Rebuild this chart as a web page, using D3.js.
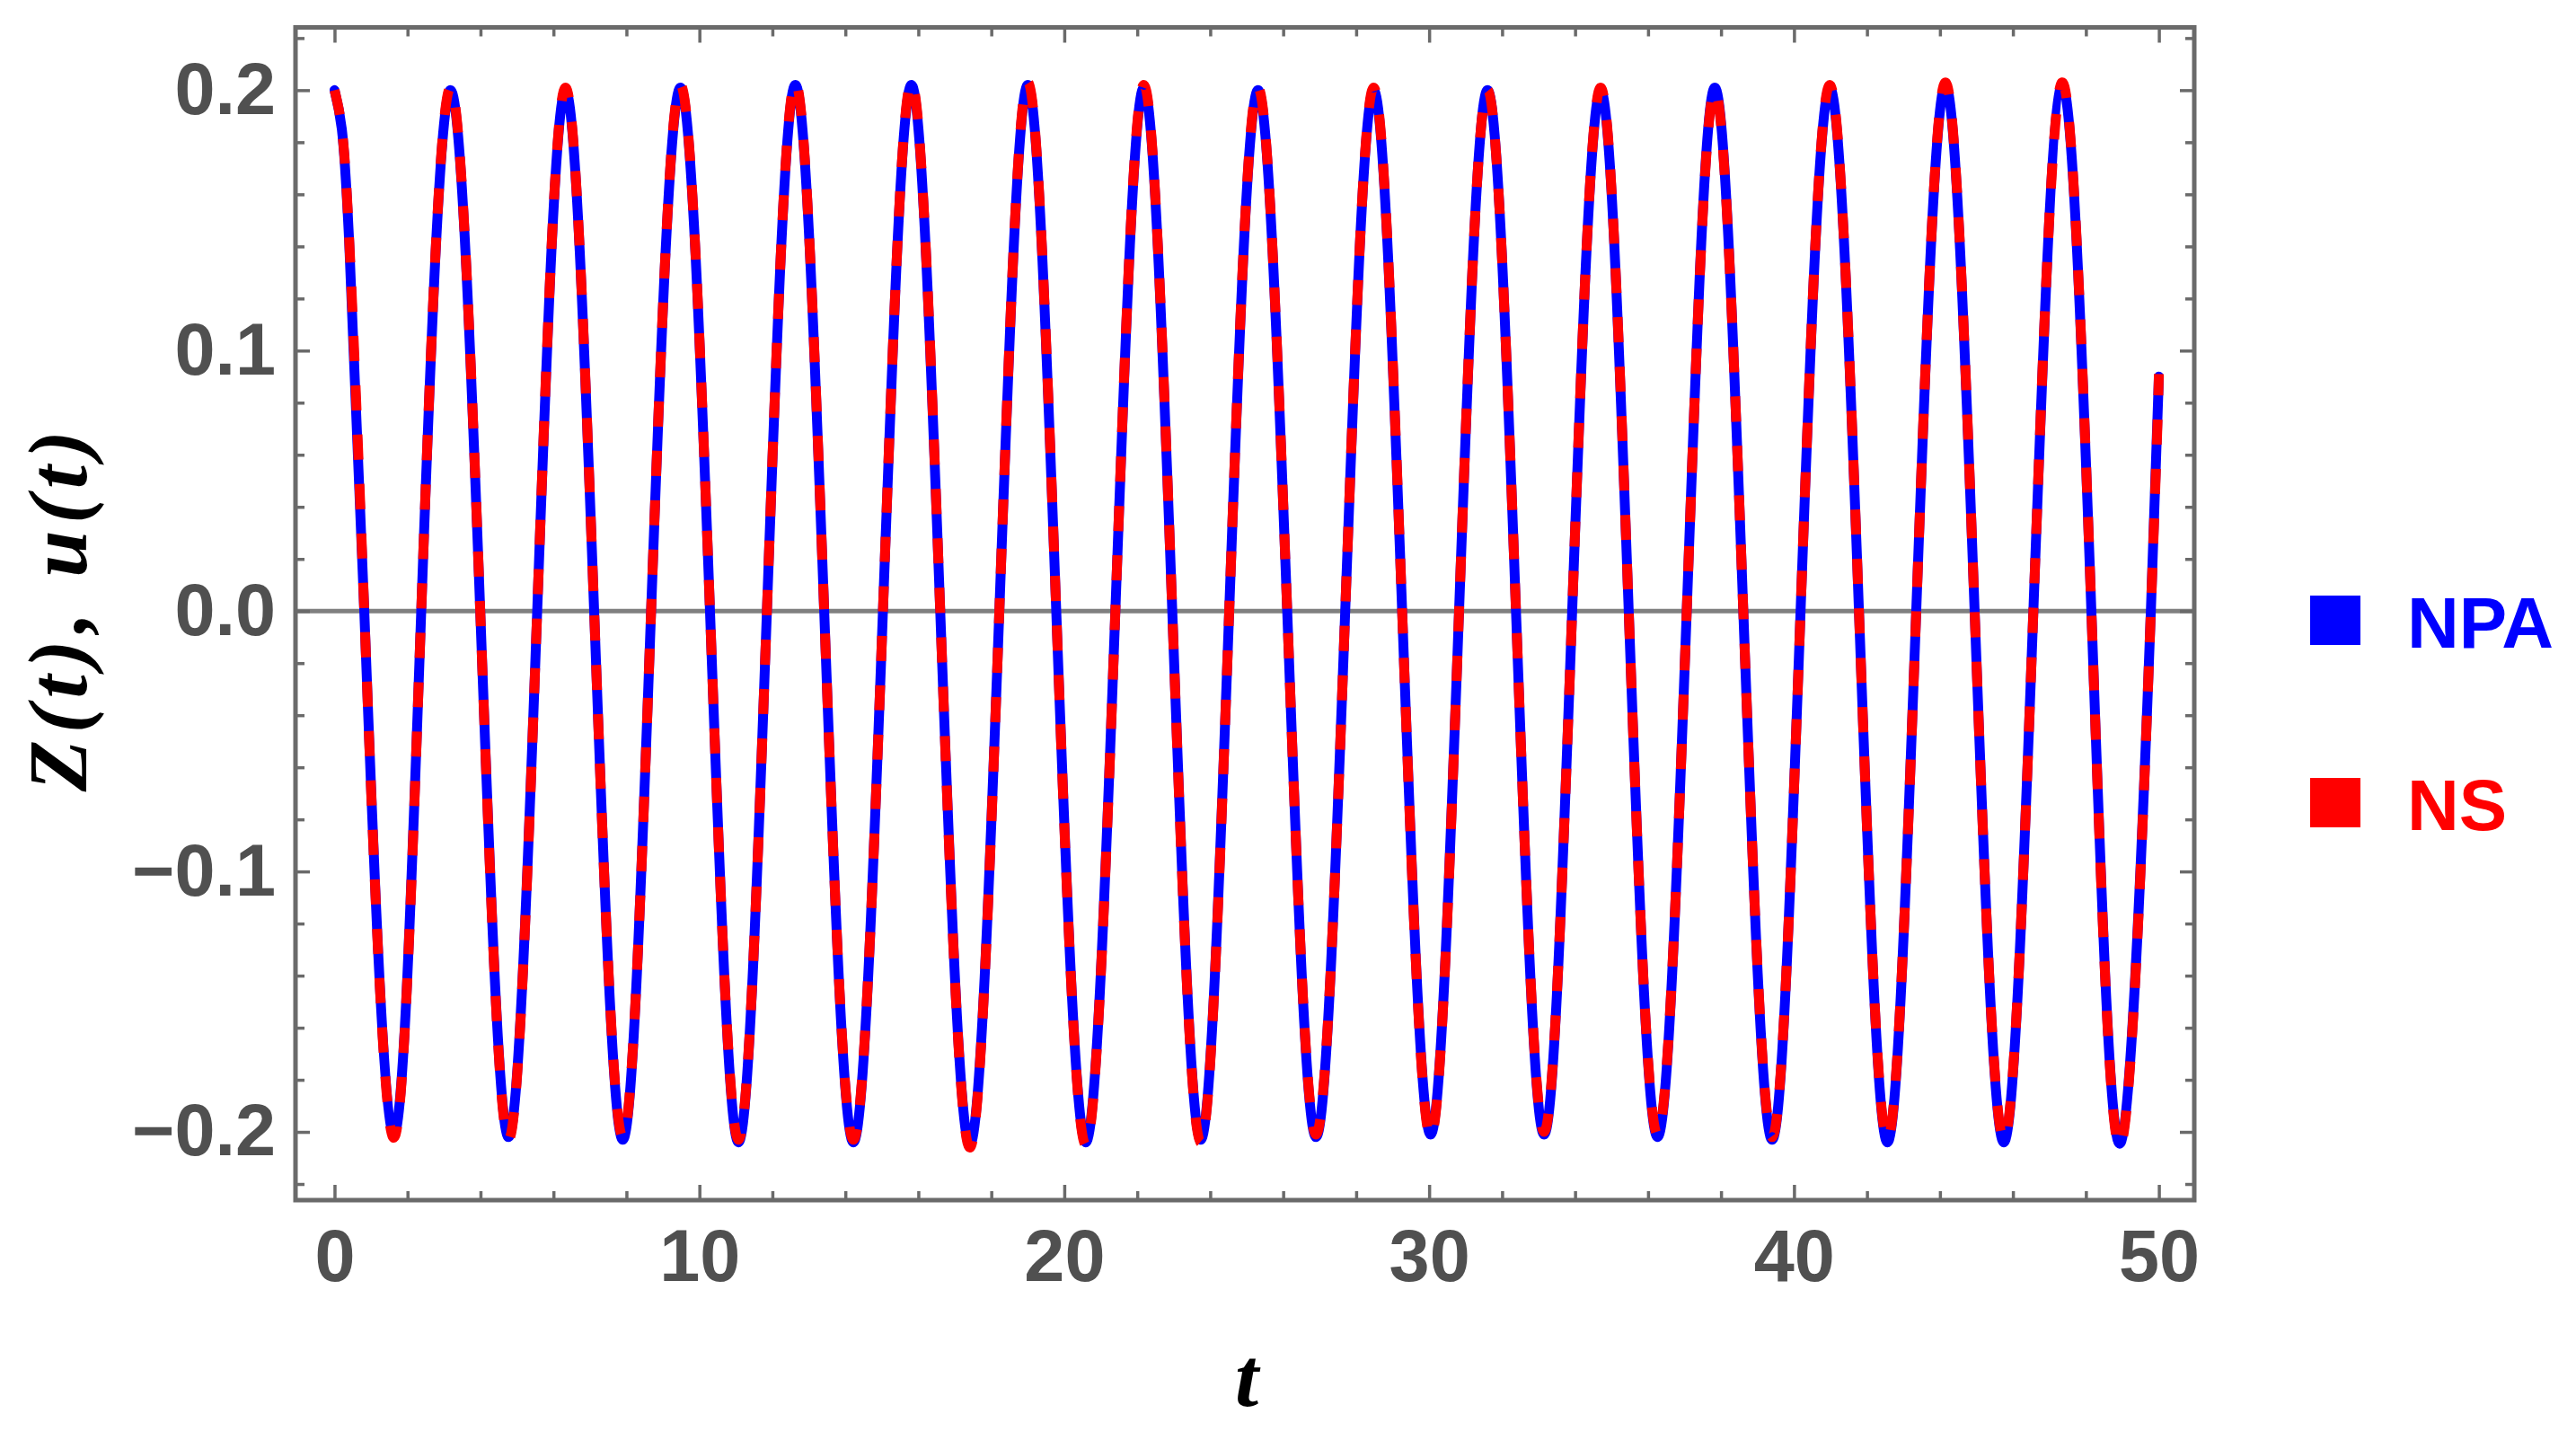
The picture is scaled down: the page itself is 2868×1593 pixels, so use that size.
<!DOCTYPE html>
<html>
<head>
<meta charset="utf-8">
<script src="https://cdn.jsdelivr.net/npm/d3@7"></script>
<style>
  html, body { margin: 0; padding: 0; background: #ffffff; }
  svg { display: block; }
</style>
</head>
<body>
<svg id="chart" width="2868" height="1593"></svg>
<script>
// ---- data ----
// knots: start, zero crossings and extremes, end (time t)
const tValues = [0, 0.20, 0.40, 0.815, 1.60, 2.376, 3.18, 3.993, 4.77, 5.554, 6.33, 7.115, 7.90, 8.676,
  9.48, 10.29, 11.07, 11.85, 12.63, 13.42, 14.22, 15.03, 15.81, 16.60, 17.41, 18.22,
  19.00, 19.78, 20.59, 21.40, 22.18, 22.96, 23.74, 24.52, 25.31, 26.11, 26.90, 27.70,
  28.48, 29.26, 30.04, 30.82, 31.60, 32.38, 33.15, 33.92, 34.70, 35.47, 36.26, 37.06,
  37.83, 38.61, 39.40, 40.18, 40.98, 41.78, 42.56, 43.35, 44.15, 44.95, 45.75, 46.56,
  47.35, 48.15, 48.96, 49.78, 50];

const npaValues = [0.200, 0.185, 0.142, 0, -0.201, 0, 0.200, 0, -0.202, 0, 0.200, 0, -0.203, 0,
  0.201, 0, -0.204, 0, 0.202, 0, -0.204, 0, 0.202, 0, -0.205, 0,
  0.202, 0, -0.204, 0, 0.201, 0, -0.203, 0, 0.200, 0, -0.202, 0,
  0.200, 0, -0.201, 0, 0.200, 0, -0.201, 0, 0.200, 0, -0.202, 0,
  0.201, 0, -0.203, 0, 0.201, 0, -0.204, 0, 0.202, 0, -0.204, 0,
  0.202, 0, -0.204, 0, 0.090];

const nsValues = [0.200, 0.185, 0.143, 0, -0.202, 0, 0.201, 0, -0.203, 0, 0.201, 0, -0.202, 0,
  0.202, 0, -0.203, 0, 0.203, 0, -0.203, 0, 0.203, 0, -0.206, 0,
  0.203, 0, -0.205, 0, 0.202, 0, -0.204, 0, 0.201, 0, -0.201, 0,
  0.201, 0, -0.202, 0, 0.200, 0, -0.200, 0, 0.201, 0, -0.201, 0,
  0.200, 0, -0.202, 0, 0.202, 0, -0.203, 0, 0.203, 0, -0.203, 0,
  0.203, 0, -0.205, 0, 0.091];

const xMajorTicks = [0, 10, 20, 30, 40, 50];
const yMajorTicks = [-0.2, -0.1, 0.0, 0.1, 0.2];
const seriesNames = ["NPA", "NS"];
const seriesColors = ["#0000ff", "#ff0000"];
const xAxisLabel = "t";
const yAxisLabel = "Z(t), u(t)";

// ---- layout ----
const plotLeft = 329, plotRight = 2443, plotTop = 30.5, plotBottom = 1336;
const frameColor = "#6a6a6a";
const labelColor = "#505050";

const svg = d3.select("#chart");

const x = d3.scaleLinear().domain([-1.07, 50.97]).range([plotLeft, plotRight]);
const y = d3.scaleLinear().domain([-0.2262, 0.2241]).range([plotBottom, plotTop]);

const xMinorTicks = d3.range(0, 51, 2).filter(v => v % 10 !== 0);
const yMinorTicks = d3.range(-22, 23, 2).filter(v => v % 10 !== 0).map(v => v / 100);

svg.append("defs").append("clipPath").attr("id", "plotClip")
  .append("rect")
  .attr("x", plotLeft).attr("y", plotTop)
  .attr("width", plotRight - plotLeft).attr("height", plotBottom - plotTop);

// zero axis line
svg.append("line")
  .attr("x1", plotLeft).attr("x2", plotRight)
  .attr("y1", y(0)).attr("y2", y(0))
  .attr("stroke", "#808080").attr("stroke-width", 5);

// series
const npaData = tValues.map((t, i) => [t, npaValues[i]]);
const nsData = tValues.map((t, i) => [t, nsValues[i]]);
const line = d3.line().x(d => x(d[0])).y(d => y(d[1])).curve(d3.curveNatural);

const plotG = svg.append("g").attr("clip-path", "url(#plotClip)");
plotG.append("path").datum(npaData)
  .attr("d", line).attr("fill", "none")
  .attr("stroke", seriesColors[0]).attr("stroke-width", 11)
  .attr("stroke-linecap", "round").attr("stroke-linejoin", "round");
plotG.append("path").datum(nsData)
  .attr("d", line).attr("fill", "none")
  .attr("stroke", seriesColors[1]).attr("stroke-width", 11)
  .attr("stroke-dasharray", "28,27")
  .attr("stroke-linejoin", "round");

// axes (ticks inward)
function styleAxis(g) {
  g.select(".domain").remove();
  g.selectAll(".tick line").attr("stroke", frameColor).attr("stroke-width", 3.5);
  g.selectAll(".tick text")
    .attr("fill", labelColor)
    .style("font-family", "'Liberation Sans', Arial, sans-serif")
    .style("font-weight", "bold")
    .style("font-size", "81px");
}

const fmtY = d3.format(".1f");

svg.append("g").attr("transform", `translate(0,${plotBottom})`)
  .call(d3.axisBottom(x).tickValues(xMajorTicks).tickSize(-17).tickPadding(32).tickFormat(d3.format("d")))
  .call(styleAxis);
svg.append("g").attr("transform", `translate(0,${plotBottom})`)
  .call(d3.axisBottom(x).tickValues(xMinorTicks).tickSize(-10).tickFormat(""))
  .call(styleAxis);
svg.append("g").attr("transform", `translate(0,${plotTop})`)
  .call(d3.axisTop(x).tickValues(xMajorTicks).tickSize(-17).tickFormat(""))
  .call(styleAxis);
svg.append("g").attr("transform", `translate(0,${plotTop})`)
  .call(d3.axisTop(x).tickValues(xMinorTicks).tickSize(-10).tickFormat(""))
  .call(styleAxis);

svg.append("g").attr("transform", `translate(${plotLeft},0)`)
  .call(d3.axisLeft(y).tickValues(yMajorTicks).tickSize(-16).tickPadding(22).tickFormat(fmtY))
  .call(styleAxis);
svg.append("g").attr("transform", `translate(${plotLeft},0)`)
  .call(d3.axisLeft(y).tickValues(yMinorTicks).tickSize(-10).tickFormat(""))
  .call(styleAxis);
svg.append("g").attr("transform", `translate(${plotRight},0)`)
  .call(d3.axisRight(y).tickValues(yMajorTicks).tickSize(-16).tickFormat(""))
  .call(styleAxis);
svg.append("g").attr("transform", `translate(${plotRight},0)`)
  .call(d3.axisRight(y).tickValues(yMinorTicks).tickSize(-10).tickFormat(""))
  .call(styleAxis);

// frame
svg.append("rect")
  .attr("x", plotLeft).attr("y", plotTop)
  .attr("width", plotRight - plotLeft).attr("height", plotBottom - plotTop)
  .attr("fill", "none").attr("stroke", frameColor).attr("stroke-width", 5);

// axis labels
svg.append("text")
  .attr("x", (plotLeft + plotRight) / 2 + 2).attr("y", 1565)
  .attr("text-anchor", "middle")
  .style("font-family", "'Liberation Serif', 'Times New Roman', serif")
  .style("font-weight", "bold").style("font-style", "italic")
  .style("font-size", "94px").attr("fill", "#000")
  .text(xAxisLabel);

svg.append("text")
  .attr("transform", `translate(96,${y(0)}) rotate(-90)`)
  .attr("text-anchor", "middle")
  .attr("textLength", 402).attr("lengthAdjust", "spacing")
  .style("font-family", "'Liberation Serif', 'Times New Roman', serif")
  .style("font-weight", "bold").style("font-style", "italic")
  .style("font-size", "94px").attr("fill", "#000")
  .text(yAxisLabel);

// legend
const legendTop = [663, 866];
const legendG = svg.append("g");
seriesNames.forEach((name, i) => {
  legendG.append("rect")
    .attr("x", 2572).attr("y", legendTop[i])
    .attr("width", 56).attr("height", 55)
    .attr("fill", seriesColors[i]);
  legendG.append("text")
    .attr("x", 2680).attr("y", legendTop[i] + 58)
    .style("font-family", "'Liberation Sans', Arial, sans-serif")
    .style("font-weight", "bold").style("font-size", "80px")
    .attr("fill", seriesColors[i])
    .text(name);
});
</script>
</body>
</html>
